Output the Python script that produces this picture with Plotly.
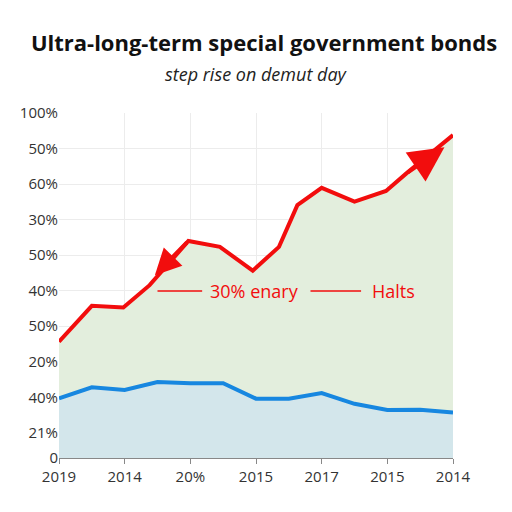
import plotly.graph_objects as go

# ---- data ----
x_tick_vals = [0, 1, 2, 3, 4, 5, 6]
x_tick_text = ["2019", "2014", "20%", "2015", "2017", "2015", "2014"]

y_tick_vals = [0, 7.25, 17.6, 27.9, 38.2, 48.5, 58.8, 69.1, 79.4, 89.7, 100]
y_tick_text = ["0", "21%", "40%", "20%", "50%", "40%", "50%", "30%", "60%", "50%", "100%"]

red_x = [0, 0.5, 0.98, 1.38, 1.97, 2.45, 2.95, 3.35, 3.63, 4.0, 4.5, 4.98, 5.29, 6.0]
red_y = [33.7, 44.1, 43.6, 50.1, 62.9, 61.2, 54.3, 61.2, 73.3, 78.3, 74.3, 77.4, 82.5, 93.6]

blue_x = [0, 0.5, 1.0, 1.5, 2.0, 2.5, 3.0, 3.5, 4.0, 4.5, 5.0, 5.5, 6.0]
blue_y = [17.3, 20.5, 19.7, 22.0, 21.7, 21.7, 17.2, 17.2, 18.8, 15.7, 13.9, 14.0, 13.2]

title = "Ultra-long-term special government bonds"
subtitle = "step rise on demut day"
label_a = "30% enary"
label_b = "Halts"

RED = "#f20d0d"
BLUE = "#1787e0"
FONT = "Open Sans"

fig = go.Figure()
fig.add_trace(go.Scatter(x=red_x, y=red_y, mode="lines", fill="tozeroy",
                         fillcolor="#e3eedd", line=dict(color=RED, width=4),
                         hoverinfo="skip", showlegend=False))
fig.add_trace(go.Scatter(x=blue_x, y=blue_y, mode="lines", fill="tozeroy",
                         fillcolor="#d3e6eb", line=dict(color=BLUE, width=4),
                         hoverinfo="skip", showlegend=False))

# arrows
fig.add_annotation(x=1.46, y=53.0, ax=1.97, ay=62.9, axref="x", ayref="y",
                   xref="x", yref="y", text="", showarrow=True,
                   arrowhead=2, arrowwidth=4, arrowsize=1.3, arrowcolor=RED)
fig.add_annotation(x=5.87, y=90.1, ax=5.29, ay=82.5, axref="x", ayref="y",
                   xref="x", yref="y", text="", showarrow=True,
                   arrowhead=2, arrowwidth=4, arrowsize=1.75, arrowcolor=RED)

# labels with dashes
y_lab = 48.4
fig.add_shape(type="line", x0=1.50, x1=2.18, y0=y_lab, y1=y_lab,
              xref="x", yref="y", line=dict(color=RED, width=1.5))
fig.add_shape(type="line", x0=3.83, x1=4.60, y0=y_lab, y1=y_lab,
              xref="x", yref="y", line=dict(color=RED, width=1.5))
fig.add_annotation(x=2.98, y=y_lab, text=label_a, showarrow=False,
                   font=dict(family=FONT, size=18, color=RED))
fig.add_annotation(x=5.09, y=y_lab, text=label_b, showarrow=False,
                   font=dict(family=FONT, size=18, color=RED))

# subtitle
fig.add_annotation(x=0.5, y=1.113, xref="paper", yref="paper", text=f"<i>{subtitle}</i>",
                   showarrow=False, xanchor="center", yanchor="middle",
                   font=dict(family=FONT, size=18, color="#222222"))

fig.update_layout(
    width=512, height=512,
    margin=dict(l=49, r=67, t=105, b=62),
    paper_bgcolor="white", plot_bgcolor="white",
    font=dict(family=FONT, size=15, color="#333333"),
    title=dict(text=f"<b>{title}</b>",
               x=0.5, xanchor="center", y=0.9316, yanchor="middle",
               font=dict(family=FONT, size=22, color="#111111")),
    showlegend=False,
)

fig.update_xaxes(range=[0, 6], tickvals=x_tick_vals, ticktext=x_tick_text,
                 showgrid=True, gridcolor="#ececec", gridwidth=1,
                 showline=True, linecolor="#888888", linewidth=1,
                 ticks="outside", ticklen=5, tickcolor="#888888",
                 tickfont=dict(size=15, color="#333333"), zeroline=False)
fig.update_yaxes(range=[0, 100], tickvals=y_tick_vals, ticktext=y_tick_text,
                 showgrid=True, gridcolor="#ececec", gridwidth=1,
                 showline=False, zeroline=False, ticks="",
                 tickfont=dict(size=15, color="#333333"))

fig.write_html("out.html")
